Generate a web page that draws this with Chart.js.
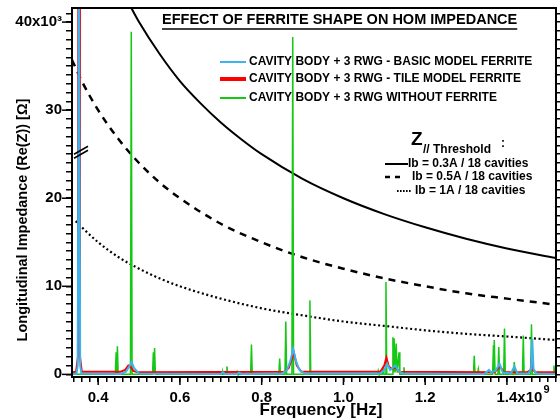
<!DOCTYPE html>
<html>
<head>
<meta charset="utf-8">
<script src="https://cdn.jsdelivr.net/npm/chart.js@4/dist/chart.umd.min.js"></script>
<style>
  html, body { margin: 0; padding: 0; background: #fff; }
</style>
</head>
<body>
<canvas id="chart" width="560" height="420"></canvas>
<script>
// Effect of ferrite shape on HOM impedance
// frequency in GHz (axis shows x10^9 Hz), impedance in kOhm (axis shows x10^3)

// CAVITY BODY + 3 RWG - BASIC MODEL FERRITE (blue)
const blueFreq = [
  0.336,
  0.347, 0.350, 0.353, 0.356, 0.359,
  0.455, 0.468, 0.476, 0.482, 0.488, 0.500,
  0.700, 0.705, 0.710,
  0.740, 0.745, 0.750,
  0.850, 0.862, 0.870, 0.877, 0.884, 0.892, 0.905,
  1.090, 1.100, 1.107, 1.114, 1.120, 1.127, 1.134, 1.145,
  1.345, 1.356, 1.362,
  1.372, 1.382, 1.390,
  1.410, 1.418, 1.426,
  1.452, 1.459, 1.462, 1.465, 1.472,
  1.520
];
const blueZ = [
  0.05,
  0.1, 1.0, 45, 1.0, 0.1,
  0.05, 0.3, 0.9, 1.4, 0.7, 0.1,
  0.05, 0.25, 0.05,
  0.05, 0.2, 0.05,
  0.1, 0.5, 1.5, 2.9, 1.5, 0.5, 0.1,
  0.1, 0.5, 1.2, 0.5, 0.7, 1.0, 0.4, 0.1,
  0.05, 0.5, 0.2,
  0.4, 1.2, 0.2,
  0.1, 0.9, 0.1,
  0.1, 0.6, 4.0, 0.6, 0.1,
  0.05
];

// CAVITY BODY + 3 RWG - TILE MODEL FERRITE (red)
const redFreq = [
  0.336,
  0.346, 0.3505, 0.3515, 0.3545, 0.3555, 0.360,
  0.455, 0.466, 0.474, 0.479, 0.486, 0.497,
  0.855, 0.866, 0.874, 0.879, 0.886, 0.897,
  1.090, 1.100, 1.105, 1.111, 1.119, 1.127, 1.136,
  1.370, 1.383, 1.392,
  1.450, 1.458, 1.461, 1.464, 1.470,
  1.520
];
const redZ = [
  0.25,
  0.3, 2.0, 45, 45, 2.0, 0.3,
  0.3, 0.5, 1.0, 0.9, 0.4, 0.25,
  0.3, 0.7, 1.8, 2.4, 1.0, 0.3,
  0.3, 1.0, 1.9, 0.9, 0.6, 0.8, 0.3,
  0.25, 0.9, 0.25,
  0.25, 0.5, 2.0, 0.5, 0.25,
  0.25
];

// CAVITY BODY + 3 RWG WITHOUT FERRITE (green)
const greenFreq = [
  0.336,
  0.442, 0.444, 0.4455, 0.447, 0.449,
  0.479, 0.481, 0.483,
  0.533, 0.535, 0.5365, 0.538, 0.540,
  0.703, 0.705, 0.707,
  0.713, 0.715, 0.717,
  0.738, 0.740, 0.742,
  0.773, 0.775, 0.777,
  0.842, 0.844, 0.846,
  0.857, 0.859, 0.861,
  0.874, 0.876, 0.878,
  0.916, 0.918, 0.920,
  1.083, 1.085, 1.087,
  1.095, 1.097, 1.099,
  1.102, 1.104, 1.106,
  1.119, 1.121, 1.1225, 1.124, 1.1265, 1.129, 1.1315, 1.136, 1.138,
  1.146, 1.148, 1.150,
  1.318, 1.320, 1.322,
  1.328, 1.330, 1.332,
  1.365, 1.367, 1.368, 1.369, 1.371,
  1.378, 1.380, 1.382,
  1.392, 1.394, 1.396,
  1.416, 1.418, 1.420,
  1.438, 1.440, 1.442,
  1.458, 1.460, 1.462,
  1.513, 1.515, 1.517,
  1.520
];
const greenZ = [
  0,
  0, 2.5, 0.1, 3.2, 0,
  0, 38.9, 0,
  0, 2.5, 0.1, 3.0, 0,
  0, 0.3, 0,
  0, 0.9, 0,
  0, 0.3, 0,
  0, 3.4, 0,
  0, 1.8, 0,
  0, 6.0, 0,
  0, 38.3, 0,
  0, 8.4, 0,
  0, 0.4, 0,
  0, 0.6, 0,
  0, 10.5, 0,
  0, 4.2, 0.2, 4.1, 0.2, 3.5, 0.2, 2.5, 0,
  0, 0.8, 0,
  0, 2.1, 0,
  0, 0.6, 0,
  0, 3.3, 0.2, 3.9, 0,
  0, 3.1, 0,
  0, 5.2, 0,
  0, 1.4, 0,
  0, 4.4, 0,
  0, 5.7, 0,
  0, 1.0, 0,
  0
];

// Z// threshold curves
const thr03Freq = [0.46, 0.48, 0.50, 0.55, 0.60, 0.65, 0.70, 0.75, 0.80, 0.90, 1.00, 1.10, 1.20, 1.30, 1.40, 1.52];
const thr03Z    = [43.5, 41.7, 40.0, 36.4, 33.3, 30.8, 28.6, 26.7, 25.0, 22.2, 20.0, 18.2, 16.7, 15.4, 14.3, 13.2];
const thr05Freq = [0.336, 0.36, 0.40, 0.45, 0.50, 0.55, 0.60, 0.70, 0.80, 0.90, 1.00, 1.10, 1.20, 1.30, 1.40, 1.52];
const thr05Z    = [35.7, 33.3, 30.0, 26.7, 24.0, 21.8, 20.0, 17.1, 15.0, 13.3, 12.0, 10.9, 10.0, 9.2, 8.6, 7.9];
const thr1Freq  = [0.345, 0.36, 0.40, 0.45, 0.50, 0.55, 0.60, 0.70, 0.80, 0.90, 1.00, 1.10, 1.20, 1.30, 1.40, 1.52];
const thr1Z     = [17.4, 16.7, 15.0, 13.3, 12.0, 10.9, 10.0, 8.6, 7.5, 6.7, 6.0, 5.5, 5.0, 4.6, 4.3, 3.9];

// axis ticks / labels
const xLabelValues = [0.4, 0.6, 0.8, 1.0, 1.2, 1.4];
const xLabelText = ['0.4', '0.6', '0.8', '1.0', '1.2', '1.4'];
const yLabelValues = [0, 10, 20, 30, 40];
const yLabelText = ['0', '10', '20', '30', '40x10\u00B3'];

const seriesNames = [
  'CAVITY BODY + 3 RWG - BASIC MODEL FERRITE',
  'CAVITY BODY + 3 RWG - TILE MODEL FERRITE',
  'CAVITY BODY + 3 RWG WITHOUT FERRITE'
];
const thresholdNames = ['Ib = 0.3A / 18 cavities', 'Ib = 0.5A / 18 cavities', 'Ib = 1A / 18 cavities'];

const FONT = '"Liberation Sans", Arial, sans-serif';
const BLUE = '#3db4ee';
const RED = '#ff0000';
const GREEN = '#14c814';

function toPoints(freqs, zs) {
  return freqs.map((f, i) => ({ x: f, y: zs[i] }));
}

// draws frame, long major ticks, x labels, titles, legends and the axis break
const decorations = {
  id: 'decorations',
  afterDraw(chart) {
    const { ctx, chartArea: a } = chart;
    const xs = chart.scales.x;
    const ys = chart.scales.y;

    function line(x1, y1, x2, y2) {
      ctx.beginPath(); ctx.moveTo(x1, y1); ctx.lineTo(x2, y2); ctx.stroke();
    }

    ctx.save();
    ctx.strokeStyle = '#000';
    ctx.fillStyle = '#000';

    // frame
    ctx.lineWidth = 2;
    ctx.strokeRect(a.left, a.top, a.right - a.left, a.bottom - a.top);

    // longer major ticks
    ctx.lineWidth = 1.5;
    yLabelValues.forEach(v => {
      const p = ys.getPixelForValue(v);
      line(a.left - 10, p, a.left, p);
    });
    xLabelValues.forEach(v => {
      const p = xs.getPixelForValue(v);
      line(p, a.bottom, p, a.bottom + 8);
    });

    // x tick labels
    ctx.font = 'bold 15px ' + FONT;
    ctx.textBaseline = 'middle';
    xLabelValues.forEach((v, i) => {
      const p = xs.getPixelForValue(v);
      ctx.textAlign = 'center';
      ctx.fillText(xLabelText[i], p, 398);
      if (i === xLabelValues.length - 1) {
        const w = ctx.measureText(xLabelText[i]).width;
        ctx.textAlign = 'left';
        ctx.fillText('x10', p + w / 2, 398);
        const w2 = ctx.measureText('x10').width;
        ctx.font = 'bold 11px ' + FONT;
        ctx.fillText('9', p + w / 2 + w2 + 1, 390);
        ctx.font = 'bold 15px ' + FONT;
      }
    });

    // axis titles
    ctx.textAlign = 'center';
    ctx.font = 'bold 17px ' + FONT;
    ctx.fillText('Frequency [Hz]', 321, 410);
    ctx.save();
    ctx.translate(23, 220);
    ctx.rotate(-Math.PI / 2);
    ctx.font = 'bold 14.5px ' + FONT;
    ctx.fillText('Longitudinal Impedance (Re(Z)) [\u03A9]', 0, 0);
    ctx.restore();

    // chart title, underlined
    ctx.font = 'bold 14.5px ' + FONT;
    ctx.textAlign = 'left';
    const title = 'EFFECT OF FERRITE SHAPE ON HOM IMPEDANCE';
    ctx.fillText(title, 162, 20);
    const tw = ctx.measureText(title).width;
    ctx.lineWidth = 1.5;
    line(162, 29, 162 + tw, 29);

    // series legend
    const legendColors = [BLUE, RED, GREEN];
    const legendWidths = [2, 4, 2];
    const legendY = [62, 79, 98];
    ctx.font = 'bold 12px ' + FONT;
    seriesNames.forEach((name, i) => {
      ctx.strokeStyle = legendColors[i];
      ctx.lineWidth = legendWidths[i];
      line(220, legendY[i], 246, legendY[i]);
      ctx.fillStyle = '#000';
      ctx.fillText(name, 249, legendY[i]);
    });

    // threshold legend
    ctx.strokeStyle = '#000';
    ctx.fillStyle = '#000';
    ctx.font = 'bold 19px ' + FONT;
    ctx.fillText('Z', 411, 140);
    ctx.font = 'bold 12px ' + FONT;
    ctx.fillText('// Threshold', 423, 150);
    ctx.fillText(':', 501, 144);
    const thrY = [164, 177, 191];
    const thrTextX = [408, 412, 415];
    ctx.lineWidth = 2;
    line(385, thrY[0], 408, thrY[0]);
    ctx.lineWidth = 2.5;
    line(385, thrY[1], 390, thrY[1]);
    line(395, thrY[1], 400, thrY[1]);
    ctx.lineWidth = 2;
    ctx.setLineDash([1.6, 1.4]);
    line(397, thrY[2], 412, thrY[2]);
    ctx.setLineDash([]);
    thresholdNames.forEach((name, i) => ctx.fillText(name, thrTextX[i], thrY[i]));

    // axis break marks on the left axis
    const pb = ys.getPixelForValue(25);
    ctx.lineWidth = 1.6;
    line(74, pb + 4, 88, pb - 4);
    line(74, pb, 88, pb - 8);

    ctx.restore();
  }
};

const thresholdStyle = {
  borderColor: '#000',
  pointRadius: 0,
  cubicInterpolationMode: 'monotone',
  fill: false
};

// keep the plot frame where the reference has it
function fixY(width) {
  return s => { s.width = width; s.paddingTop = 0; s.paddingBottom = 0; };
}

new Chart(document.getElementById('chart'), {
  type: 'line',
  data: {
    datasets: [
      { label: seriesNames[0], data: toPoints(blueFreq, blueZ), borderColor: BLUE, borderWidth: 2, pointRadius: 0, tension: 0, order: 0 },
      { label: seriesNames[1], data: toPoints(redFreq, redZ), borderColor: RED, borderWidth: 2, pointRadius: 0, tension: 0, order: 1 },
      { label: seriesNames[2], data: toPoints(greenFreq, greenZ), borderColor: GREEN, borderWidth: 1.5, pointRadius: 0, tension: 0, order: 2 },
      { label: thresholdNames[0], data: toPoints(thr03Freq, thr03Z), borderWidth: 2, order: 3, ...thresholdStyle },
      { label: thresholdNames[1], data: toPoints(thr05Freq, thr05Z), borderWidth: 2.5, borderDash: [7, 6], order: 4, ...thresholdStyle },
      { label: thresholdNames[2], data: toPoints(thr1Freq, thr1Z), borderWidth: 2.2, borderDash: [2, 2.6], order: 5, ...thresholdStyle }
    ]
  },
  options: {
    responsive: false,
    animation: false,
    layout: { padding: { top: 8, left: 0, right: 0, bottom: 0 } },
    plugins: {
      legend: { display: false },
      tooltip: { enabled: false }
    },
    scales: {
      x: {
        type: 'linear',
        position: 'bottom',
        min: 0.336,
        max: 1.52,
        border: { display: false },
        grid: { drawOnChartArea: false, tickLength: 5, color: '#000', lineWidth: 1.5 },
        ticks: {
          stepSize: 0.02,
          includeBounds: false,
          autoSkip: false,
          maxRotation: 0,
          callback: () => ''
        },
        afterFit: s => { s.height = 43; s.paddingLeft = 0; s.paddingRight = 0; }
      },
      y: {
        type: 'linear',
        position: 'left',
        min: -0.3,
        max: 41.6,
        border: { display: false },
        grid: { drawOnChartArea: false, tickLength: 6, color: '#000', lineWidth: 1.5 },
        ticks: {
          stepSize: 1,
          includeBounds: false,
          autoSkip: false,
          padding: 4,
          color: '#000',
          font: { family: FONT, size: 15, weight: 'bold' },
          callback: v => {
            const i = yLabelValues.indexOf(v);
            return i >= 0 ? yLabelText[i] : '';
          }
        },
        afterFit: fixY(72)
      },
      y2: {
        type: 'linear',
        position: 'right',
        min: -0.3,
        max: 41.6,
        border: { display: false },
        grid: { drawOnChartArea: false, tickLength: 4, color: '#000', lineWidth: 1.5 },
        ticks: { stepSize: 1, includeBounds: false, autoSkip: false, display: false },
        afterFit: fixY(4)
      }
    }
  },
  plugins: [decorations]
});
</script>
</body>
</html>
